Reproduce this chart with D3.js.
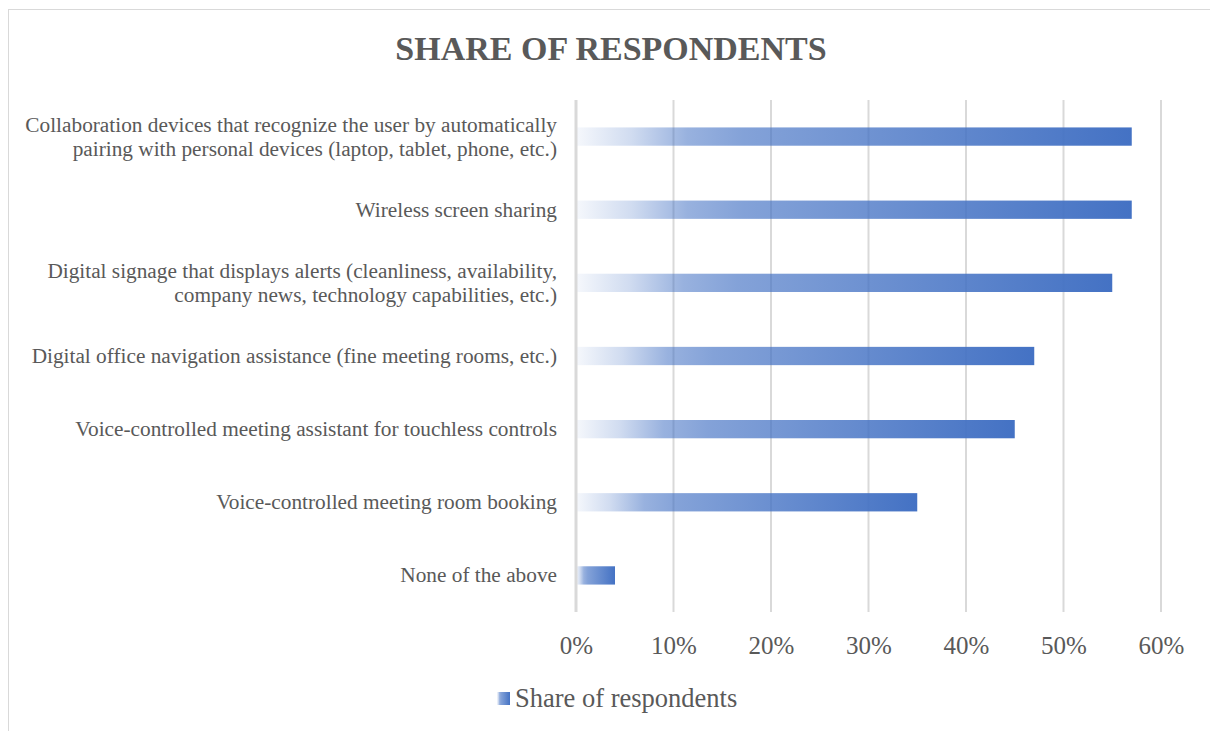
<!DOCTYPE html>
<html>
<head>
<meta charset="utf-8">
<script src="https://cdn.jsdelivr.net/npm/d3@7"></script>
<style>
  body { margin: 0; background: #fff; }
  svg { display: block; font-family: "Liberation Serif", "Times New Roman", serif; }
</style>
</head>
<body>
<svg></svg>
<script>
const w = 1210;
const h = 731;

// data
const categories = [
    ['Collaboration devices that recognize the user by automatically', 'pairing with personal devices (laptop, tablet, phone, etc.)'],
    ['Wireless screen sharing'],
    ['Digital signage that displays alerts (cleanliness, availability,', 'company news, technology capabilities, etc.)'],
    ['Digital office navigation assistance (fine meeting rooms, etc.)'],
    ['Voice-controlled meeting assistant for touchless controls'],
    ['Voice-controlled meeting room booking'],
    ['None of the above']
];
const values = [0.57, 0.57, 0.55, 0.47, 0.45, 0.35, 0.04];
const ticks = [0, 0.1, 0.2, 0.3, 0.4, 0.5, 0.6];
const seriesName = 'Share of respondents';
const title = 'SHARE OF RESPONDENTS';

const pLeft = 576, pRight = 1161, pTop = 100, pBottom = 612;

const svg = d3.select('svg')
    .attr('width', w)
    .attr('height', h);

// gradient for bars
const defs = svg.append('defs');
const grad = defs.append('linearGradient')
    .attr('id', 'barGrad')
    .attr('x1', '0%').attr('x2', '100%')
    .attr('y1', '0%').attr('y2', '0%');
[[0, 0.05], [0.1, 0.25], [0.2, 0.55], [0.3, 0.66], [1, 1]].forEach(s => {
    grad.append('stop')
        .attr('offset', s[0])
        .attr('stop-color', '#4472c4')
        .attr('stop-opacity', s[1]);
});

// chart border
svg.append('rect')
    .attr('x', 8.5).attr('y', 9.5)
    .attr('width', w).attr('height', h)
    .attr('fill', 'none')
    .attr('stroke', '#d9d9d9');

// title
svg.append('text')
    .attr('x', 611)
    .attr('y', 60)
    .attr('text-anchor', 'middle')
    .attr('font-size', 34)
    .attr('font-weight', 'bold')
    .attr('fill', '#595959')
    .text(title);

// scales
const x = d3.scaleLinear()
    .domain([0, 0.6])
    .range([pLeft, pRight]);

const y = d3.scaleBand()
    .domain(d3.range(categories.length))
    .range([pTop, pBottom])
    .paddingInner(0.75)
    .paddingOuter(0.375);

// gridlines
svg.append('g')
    .selectAll('line')
    .data(ticks.slice(1))
    .enter()
    .append('line')
    .attr('x1', d => x(d)).attr('x2', d => x(d))
    .attr('y1', pTop).attr('y2', pBottom)
    .attr('stroke', '#d9d9d9')
    .attr('stroke-width', 2);

// x-axis labels
const xAxis = d3.axisBottom(x)
    .tickValues(ticks)
    .tickFormat(d3.format('.0%'))
    .tickSize(0)
    .tickPadding(24);

svg.append('g')
    .attr('transform', 'translate(0,' + pBottom + ')')
    .call(xAxis)
    .call(g => g.select('.domain').remove())
    .selectAll('text')
    .attr('font-family', '"Liberation Serif", serif')
    .attr('font-size', 25)
    .attr('fill', '#595959');

// bars
svg.append('g')
    .selectAll('rect')
    .data(values)
    .enter()
    .append('rect')
    .attr('x', x(0))
    .attr('y', (d, i) => y(i))
    .attr('width', d => x(d) - x(0))
    .attr('height', y.bandwidth())
    .attr('fill', 'url(#barGrad)');

// baseline
svg.append('line')
    .attr('x1', x(0)).attr('x2', x(0))
    .attr('y1', pTop).attr('y2', pBottom)
    .attr('stroke', '#d9d9d9')
    .attr('stroke-width', 3);

// category labels
const lineH = 24;
svg.append('g')
    .selectAll('text')
    .data(categories)
    .enter()
    .append('text')
    .attr('text-anchor', 'end')
    .attr('font-size', 21.3)
    .attr('fill', '#595959')
    .each(function(d, i) {
        const cy = y(i) + y.bandwidth() / 2;
        const t = d3.select(this);
        d.forEach((line, j) => {
            t.append('tspan')
                .attr('x', 557)
                .attr('y', cy + (j - (d.length - 1) / 2) * lineH + 7)
                .text(line);
        });
    });

// legend
const lg = svg.append('g').attr('transform', 'translate(497,692)');
lg.append('rect')
    .attr('width', 13).attr('height', 13)
    .attr('fill', 'url(#barGrad)');
lg.append('text')
    .attr('x', 18)
    .attr('y', 15)
    .attr('font-size', 26.5)
    .attr('fill', '#595959')
    .text(seriesName);
</script>
</body>
</html>
